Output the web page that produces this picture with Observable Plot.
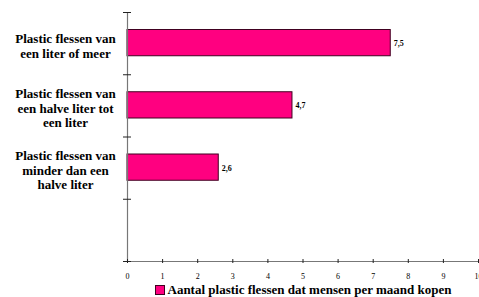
<!DOCTYPE html>
<html>
<head>
<meta charset="utf-8">
<script src="https://cdn.jsdelivr.net/npm/d3@7"></script>
<script src="https://cdn.jsdelivr.net/npm/@observablehq/plot@0.6"></script>
<style>
  html, body { margin: 0; padding: 0; background: #fff; }
  body { width: 479px; height: 297px; overflow: hidden; font-family: "Liberation Serif", "Times New Roman", Times, serif; }
  #legend { margin-left: 127px; width: 352px; text-align: center; font-weight: bold; font-size: 13px; line-height: 14px; color: #000; white-space: nowrap; }
  #legend .sw { display: inline-block; width: 8px; height: 8px; background: #FF0080; border: 1px solid #400020; vertical-align: -1px; margin-right: 3px; }
</style>
</head>
<body>
<div id="chart"></div>
<div id="legend"></div>
<script>
const categories = [
  "Plastic flessen van\neen liter of meer",
  "Plastic flessen van\neen halve liter tot\neen liter",
  "Plastic flessen van\nminder dan een\nhalve liter"
];
const values = [7.5, 4.7, 2.6];
const xTicks = [0, 1, 2, 3, 4, 5, 6, 7, 8, 9, 10];
const bandBoundaries = [0, 1, 2, 3, 4];
const seriesName = "Aantal plastic flessen dat mensen per maand kopen";

const data = categories.map((c, i) => ({category: c, value: values[i], pos: i}));
const serif = '"Liberation Serif", "Times New Roman", Times, serif';

const chart = Plot.plot({
  width: 479,
  height: 283,
  marginTop: 12,
  marginBottom: 22,
  marginLeft: 127,
  marginRight: 1,
  style: {fontFamily: serif, background: "#fff"},
  x: {domain: [0, 10]},
  y: {domain: [0, 4], reverse: true},
  marks: [
    Plot.rectX(data, {
      x1: 0, x2: "value", y1: "pos", y2: d => d.pos + 1,
      insetTop: 17.5, insetBottom: 18.5,
      fill: "#FF0080", stroke: "#400020", strokeWidth: 1
    }),
    Plot.text(data, {
      x: "value", y: d => d.pos + 0.5, text: d => String(d.value).replace(".", ","),
      textAnchor: "start", dx: 3, fontSize: 8, fontWeight: "bold", fill: "#000", fontFamily: serif
    }),
    Plot.text(data, {
      x: 0, y: d => d.pos + 0.5, text: "category",
      textAnchor: "middle", dx: -62, dy: 2, fontSize: 13, fontWeight: "bold", lineHeight: 1.12, fill: "#000", fontFamily: serif
    }),
    Plot.ruleX([0], {y1: 0, y2: 4, stroke: "#777", strokeWidth: 1.2}),
    Plot.ruleY([4], {x1: 0, x2: 10, stroke: "#777", strokeWidth: 1.2}),
    Plot.ruleY(bandBoundaries, {x1: 0, x2: 0, insetLeft: -4, insetRight: -4, stroke: "#222", strokeWidth: 1}),
    Plot.ruleX(xTicks, {y1: 4, y2: 4, insetTop: -2, insetBottom: -2, stroke: "#222", strokeWidth: 1}),
    Plot.text(xTicks, {
      x: d => d, y: 4, text: d => String(d), dy: 15, fontSize: 8, fill: "#000", textAnchor: "middle", fontFamily: serif
    })
  ],
  axis: null
});
document.getElementById("chart").appendChild(chart);
document.getElementById("legend").innerHTML = '<span class="sw"></span>' + seriesName;
</script>
</body>
</html>
